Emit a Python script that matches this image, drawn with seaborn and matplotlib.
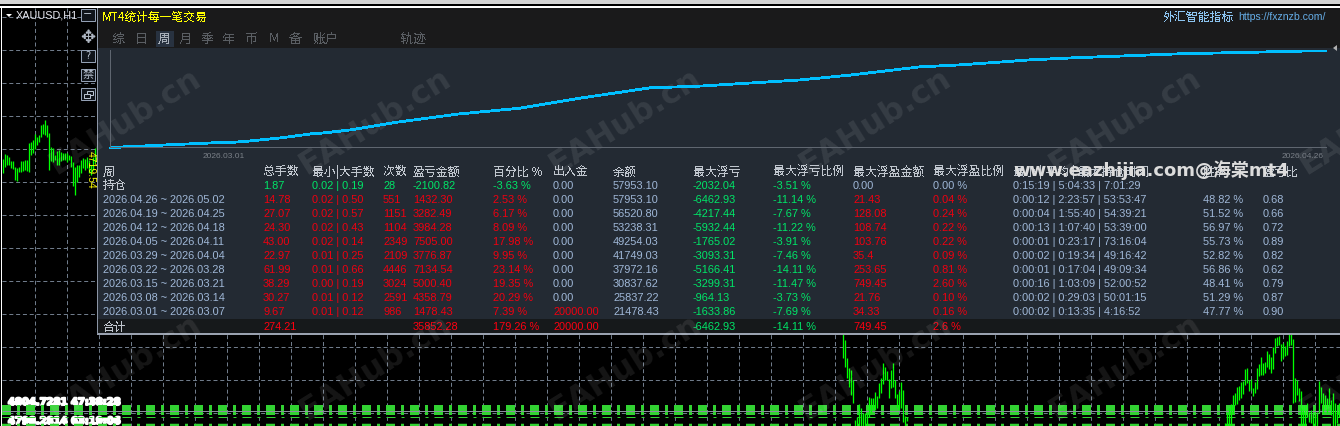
import matplotlib
matplotlib.use("Agg")
import matplotlib.pyplot as plt
import matplotlib.patheffects as pe
from matplotlib.patches import Rectangle, Polygon
import numpy as np
import pandas as pd
import seaborn as sns

# equity curve (days from 2026.03.01, balance)
curve_day = [-5.9, -5.3, -4.1, -3.0, -1.8, -0.6, 0.6, 1.3, 2.1, 2.9, 3.7, 4.5, 5.2, 6.5, 9.1, 12.2, 15.4, 18.5,
             22.1, 24.7, 27.3, 29.9, 32.5, 36.1, 38.2, 40.3, 41.7, 43.9, 45.3, 46.7, 48.1, 49.5, 51.3, 53.7, 56.0, 57.2]
curve_balance = [20000, 20400, 20800, 21200, 21600, 22000, 22300, 22700, 23300, 23900, 24700, 25500, 25900, 27000,
                 30200, 33300, 35600, 39500, 43500, 44200, 45400, 46600, 48500, 51700, 52500, 53600, 54400, 55200,
                 55600, 56000, 56400, 56800, 57100, 57500, 57900, 57953]
curve_ticks = [0, 56]
curve_dates = ["2026.03.01", "2026.04.26"]

tabs = ["综", "日", "周", "月", "季", "年", "币", "M", "备", "账户", "轨迹"]
tab_pos = [119, 141, 164, 185, 207, 229, 251, 274, 295, 326, 413]

headers = ["周", "总手数", "最小|大手数", "次数", "盈亏金额", "百分比 %", "出入金", "余额", "最大浮亏", "最大浮亏比例",
           "最大浮盈金额", "最大浮盈比例", "最小 | 平均 | 最大持仓时间", "胜率", "盈亏比"]
col_pos = [103, 263, 312, 383, 413, 493, 553, 613, 693, 773, 853, 933, 1013, 1203, 1263]

weeks = ["持仓", "2026.04.26 ~ 2026.05.02", "2026.04.19 ~ 2026.04.25", "2026.04.12 ~ 2026.04.18",
         "2026.04.05 ~ 2026.04.11", "2026.03.29 ~ 2026.04.04", "2026.03.22 ~ 2026.03.28",
         "2026.03.15 ~ 2026.03.21", "2026.03.08 ~ 2026.03.14", "2026.03.01 ~ 2026.03.07"]
total_lots = ["1.87", "14.78", "27.07", "24.30", "43.00", "22.97", "61.99", "38.29", "30.27", "9.67"]
lot_range = ["0.02 | 0.19", "0.02 | 0.50", "0.02 | 0.57", "0.02 | 0.43", "0.02 | 0.14", "0.01 | 0.25",
             "0.01 | 0.66", "0.00 | 0.19", "0.01 | 0.12", "0.01 | 0.12"]
trade_count = ["28", "551", "1151", "1104", "2349", "2109", "4446", "3024", "2591", "986"]
profit = ["-2100.82", "1432.30", "3282.49", "3984.28", "7505.00", "3776.87", "7134.54", "5000.40", "4358.79", "1478.43"]
profit_pct = ["-3.63 %", "2.53 %", "6.17 %", "8.09 %", "17.98 %", "9.95 %", "23.14 %", "19.35 %", "20.29 %", "7.39 %"]
deposit = ["0.00", "0.00", "0.00", "0.00", "0.00", "0.00", "0.00", "0.00", "0.00", "20000.00"]
balance = ["57953.10", "57953.10", "56520.80", "53238.31", "49254.03", "41749.03", "37972.16", "30837.62", "25837.22", "21478.43"]
max_loss = ["-2032.04", "-6462.93", "-4217.44", "-5932.44", "-1765.02", "-3093.31", "-5166.41", "-3299.31", "-964.13", "-1633.86"]
max_loss_pct = ["-3.51 %", "-11.14 %", "-7.67 %", "-11.22 %", "-3.91 %", "-7.46 %", "-14.11 %", "-11.47 %", "-3.73 %", "-7.69 %"]
max_gain = ["0.00", "21.43", "128.08", "108.74", "103.76", "35.4", "253.65", "749.45", "21.76", "34.33"]
max_gain_pct = ["0.00 %", "0.04 %", "0.24 %", "0.22 %", "0.22 %", "0.09 %", "0.81 %", "2.60 %", "0.10 %", "0.16 %"]
hold_time = ["0:15:19 | 5:04:33 | 7:01:29", "0:00:12 | 2:23:57 | 53:53:47", "0:00:04 | 1:55:40 | 54:39:21",
             "0:00:13 | 1:07:40 | 53:39:00", "0:00:01 | 0:23:17 | 73:16:04", "0:00:02 | 0:19:34 | 49:16:42",
             "0:00:01 | 0:17:04 | 49:09:34", "0:00:16 | 1:03:09 | 52:00:52", "0:00:02 | 0:29:03 | 50:01:15",
             "0:00:02 | 0:13:35 | 4:16:52"]
win_rate = ["", "48.82 %", "51.52 %", "56.97 %", "55.73 %", "52.82 %", "56.86 %", "48.41 %", "51.29 %", "47.77 %"]
pl_ratio = ["", "0.68", "0.66", "0.72", "0.89", "0.82", "0.62", "0.79", "0.87", "0.90"]

total_label = "合计"
total_row = {263: "274.21", 413: "35852.28", 493: "179.26 %", 553: "20000.00", 693: "-6462.93", 773: "-14.11 %",
             853: "749.45", 933: "2.6 %"}

# price bars behind the panel, given as screen rows
left_high = [159, 154, 155, 157, 161, 161, 167, 168, 167, 161, 161, 160, 160, 143, 142, 140, 134, 137, 135, 125, 124, 120,
             125, 133, 147, 148, 155, 151, 150, 152, 153, 153, 153, 155, 156, 162, 167, 165, 165, 160, 158, 159, 157, 160,
             165, 157, 148, 146]
left_low = [173, 167, 165, 165, 168, 169, 180, 181, 172, 172, 171, 170, 171, 172, 155, 153, 149, 145, 142, 137, 134, 135,
            137, 170, 161, 162, 160, 165, 165, 161, 160, 160, 162, 160, 167, 186, 195, 182, 177, 173, 168, 170, 168, 173,
            175, 170, 163, 160]
mid_high = [334, 340, 358, 368, 370, 380, 420, 417, 404, 408, 413, 413, 413, 397, 398, 398, 392, 396, 383, 378, 363, 367,
            371, 379, 370, 363, 380, 394, 391, 382, 390, 416, 417]
mid_low = [358, 367, 378, 387, 395, 403, 426, 426, 426, 426, 426, 426, 426, 417, 413, 408, 410, 408, 398, 393, 384, 380,
           380, 398, 388, 387, 398, 407, 410, 408, 422, 426, 421]
right_high = [423, 413, 408, 404, 395, 393, 387, 386, 382, 381, 369, 368, 380, 379, 388, 382, 368, 364, 357, 363, 362, 351,
              354, 357, 347, 338, 337, 336, 344, 343, 346, 341, 334, 334, 339, 378, 380, 388, 391, 405, 405, 403, 412, 410,
              413, 412, 412, 381, 387, 393, 395, 398, 388, 400, 393, 403, 410, 403]
right_low = [426, 426, 426, 426, 413, 405, 404, 400, 398, 394, 385, 383, 391, 390, 396, 393, 389, 376, 375, 375, 373, 367,
             369, 373, 369, 353, 346, 345, 361, 358, 356, 355, 346, 345, 403, 402, 395, 401, 426, 426, 426, 417, 422, 423,
             426, 426, 426, 413, 403, 413, 408, 413, 406, 415, 426, 426, 423, 417]

sns.set_theme(style="dark")
plt.rcParams["font.family"] = ["Liberation Sans", "Noto Sans CJK SC", "DejaVu Sans"]
plt.rcParams["lines.scale_dashes"] = False
CJK = ["Noto Sans CJK SC", "DejaVu Sans"]
PX = 0.72

NEUTRAL = "#a0b8d8"
HEAD = "#c0c6ce"
RED = "#f00010"
GREEN = "#00e668"
PANEL = "#232a33"

fig = plt.figure(figsize=(13.4, 4.26), dpi=100, facecolor="black")
bg = fig.add_axes([0, 0, 1, 1])
bg.set_xlim(0, 1340)
bg.set_ylim(426, 0)
bg.axis("off")

# window frame
bg.add_patch(Rectangle((0, 0), 1340, 3.5, color="#d4d4d4", lw=0, zorder=1))
bg.add_patch(Rectangle((0, 6), 1340, 1.5, color="white", lw=0, zorder=1))
bg.add_patch(Rectangle((1, 6), 1, 420, color="white", lw=0, zorder=1))

# chart grid
grid_c = "#6f7b8a"
bg.vlines(np.arange(34.5, 1340, 32), 8, 426, color=grid_c, lw=PX, linestyles=(0, (2.9, 2)), zorder=2)
bg.hlines(16.5 + 33.05 * np.arange(13), 2, 1340, color=grid_c, lw=PX, linestyles=(0, (2.9, 2)), zorder=2)

# scrambled labels lower left
thick = [pe.withStroke(linewidth=1.4, foreground="white")]
for txt, yy in [("4804.7281 47:38:28", 402), ("4798.2814 63:19:06", 421)]:
    bg.text(8, yy, txt, color="white", fontsize=7.2, fontweight="bold", va="center", zorder=3, family="DejaVu Sans",
            path_effects=thick)

# green blocks along the bottom
block_dash = (0, (9 * PX, 6 * PX, 3 * PX, 6 * PX))
for yy, hh in [(410, 10), (416.5, 1), (425, 2.5)]:
    ln = bg.hlines(yy, 2, 1340, color="#32d232", lw=hh * PX, linestyles=block_dash, zorder=4)
    ln.set_capstyle("butt")
bg.hlines(410.5, 2, 1340, color="#8a8f9c", lw=PX, zorder=5)

# price bars
for start, high, low in [(2, left_high, left_low), (842, mid_high, mid_low), (1224, right_high, right_low)]:
    xs = start + 2 * np.arange(len(high)) + 0.5
    bg.vlines(xs, high, low, color="#00ff00", lw=1.3 * PX, zorder=6)
bg.text(91, 170, "4719.54", color="#ffff00", fontsize=7.5, rotation=-90, ha="center", va="center", zorder=7)

# chart window buttons and symbol
bg.add_patch(Polygon([(6, 14), (12, 14), (9, 17)], color="white", lw=0, zorder=7))
bg.text(16, 15.5, "XAUUSD,H1", color="#e8e8f0", fontsize=7.8, va="center", zorder=7)
for top in [9, 50, 69, 88]:
    bg.add_patch(Rectangle((81, top), 14, 12, fc="#10141a", ec="#93a0b4", lw=PX, zorder=7))
bg.text(88, 14, "−", color="#b8c2d0", fontsize=8, ha="center", va="center", zorder=8, family="DejaVu Sans")
bg.text(88, 38, "✥", color="#aeb6c2", fontsize=13, ha="center", va="center", zorder=8, family="DejaVu Sans")
bg.text(88, 56, "?", color="#b8c2d0", fontsize=7, ha="center", va="center", zorder=8, family="DejaVu Sans")
bg.text(88, 75, "禁", color="#b8c2d0", fontsize=8, ha="center", va="center", zorder=8, family=CJK)
bg.add_patch(Rectangle((87, 91), 6, 4, fc="none", ec="#b8c2d0", lw=PX, zorder=8))
bg.add_patch(Rectangle((84, 94), 6, 4, fc="#10141a", ec="#b8c2d0", lw=PX, zorder=8))

# panel
bg.add_patch(Rectangle((97, 8), 1243, 40, color="#1a1a1b", lw=0, zorder=10))
bg.add_patch(Rectangle((97, 48), 1243, 271, color=PANEL, lw=0, zorder=10))
bg.add_patch(Rectangle((97, 319), 1243, 14, color="#16191b", lw=0, zorder=10))
bg.add_patch(Rectangle((97, 333), 1243, 1.5, color="#9aa2b0", lw=0, zorder=11))
bg.add_patch(Rectangle((97, 8), 1.2, 326, color="#8b95a5", lw=0, zorder=11))
bg.add_patch(Polygon([(1337, 45), (1337, 51), (1333, 48)], color="#b0b0b0", lw=0, zorder=11))

bg.text(102, 17, "MT4统计每一笔交易", color="#ffff00", fontsize=8.5, va="center", zorder=12, family=CJK, antialiased=False)
bg.text(1163, 17, "外汇智能指标", color="#8cc4f0", fontsize=8.6, va="center", zorder=12, family=CJK, antialiased=False)
bg.text(1238, 17.5, "https://fxznzb.com/", color="#66aee8", fontsize=7.6, va="center", zorder=12)

bg.add_patch(Rectangle((156, 31), 18, 16, color="#283240", lw=0, zorder=11))
for name, xp in zip(tabs, tab_pos):
    bg.text(xp, 39, name, color="#a8b0ba" if name == "周" else "#5a5e63", fontsize=9.4, ha="center", va="center",
            zorder=12, family=CJK, antialiased=False)

# header row
for name, xp in zip(headers, col_pos):
    bg.text(xp, 172, name, color=HEAD, fontsize=8.6, va="center", zorder=12, family=CJK, antialiased=False)

# table body
columns = [total_lots, lot_range, trade_count, profit, profit_pct, deposit, balance, max_loss, max_loss_pct, max_gain,
           max_gain_pct, hold_time, win_rate, pl_ratio]
for r, week in enumerate(weeks):
    yy = 186 + 14 * r
    if r == 0:
        bg.text(103, yy, week, color=HEAD, fontsize=8.6, va="center", zorder=12, family=CJK, antialiased=False)
    else:
        bg.text(103, yy, week, color=NEUTRAL, fontsize=7.9, va="center", zorder=12)
    for c, values in enumerate(columns):
        col_x = col_pos[c + 1]
        if col_x in (613, 1013, 1203, 1263):
            color = NEUTRAL
        elif col_x == 553:
            color = RED if values[r] != "0.00" else NEUTRAL
        elif col_x in (693, 773):
            color = GREEN
        elif col_x in (853, 933):
            color = NEUTRAL if r == 0 else RED
        else:
            color = GREEN if r == 0 else RED
        bg.text(col_x, yy, values[r], color=color, fontsize=7.9, va="center", zorder=12)

bg.text(103, 327, total_label, color=HEAD, fontsize=8.6, va="center", zorder=12, family=CJK, antialiased=False)
for xp, val in total_row.items():
    bg.text(xp, 327, val, color=GREEN if xp in (693, 773) else "#ff0010", fontsize=7.9, va="center", zorder=12)

# overlay and watermark
bg.text(1013, 170, "www.eazhijia.com@海棠mt4", color="#dcdcdc", fontsize=13, fontweight="bold", va="center", zorder=14,
        family=["DejaVu Sans", "Noto Sans CJK SC"])
for yy in [122, 368]:
    for xp in [125, 375, 625, 875, 1125, 1375]:
        bg.text(xp, yy, "EAHub.cn", color="white", alpha=0.09, fontsize=23, fontweight="bold", rotation=32,
                rotation_mode="anchor", ha="center", va="center", zorder=15, family="DejaVu Sans")

# equity curve
H = 426.0
ax = fig.add_axes([110 / 1340, 1 - 147 / H, (1326 - 110) / 1340, 97 / H], facecolor="none", zorder=2)
curve = pd.DataFrame({"day": curve_day, "balance": curve_balance})
sns.lineplot(data=curve, x="day", y="balance", color="#00bfff", lw=1.8 * PX, antialiased=False, clip_on=False, ax=ax)
ax.set_xlim(-5.9, 57.2)
ax.set_ylim(20391, 58318)
ax.set_xlabel("")
ax.set_ylabel("")
ax.set_yticks([])
ax.set_xticks(curve_ticks)
ax.set_xticklabels(curve_dates, color="#7a8088", fontsize=6)
ax.tick_params(axis="x", length=0, pad=4)
sns.despine(ax=ax)
for side in ["left", "bottom"]:
    ax.spines[side].set_color("#5f6670")
    ax.spines[side].set_linewidth(PX)

fig.savefig("out.png", dpi=100, facecolor="black")
